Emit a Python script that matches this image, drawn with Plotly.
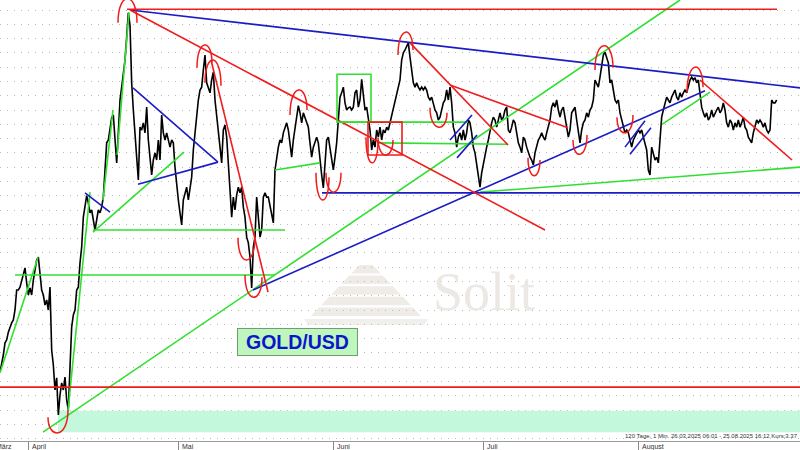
import plotly.graph_objects as go
import pandas as pd

# ---------------- data ----------------
start = pd.Timestamp("2025-03-26 06:00")
schritt_stunden = 8  # one price sample every 8 hours

kurs = [
    2993, 3003, 3017, 3034, 3038, 3049, 3056, 3062, 3066, 3080,
    3108, 3108, 3112, 3122, 3129, 3139, 3118, 3101, 3111, 3101,
    3122, 3136, 3150, 3154, 3129, 3108, 3101, 3087, 3094, 3080,
    3112, 3024, 3003, 2968, 2985, 2933, 2961, 2978, 2968, 2986,
    2954, 2940, 3000, 3056, 3073, 3080, 3108, 3112, 3146, 3168,
    3210, 3224, 3240, 3230, 3216, 3220, 3206, 3192, 3206, 3220,
    3216, 3224, 3238, 3272, 3314, 3318, 3336, 3349, 3353, 3318,
    3286, 3328, 3374, 3392, 3412, 3430, 3462, 3496, 3479, 3398,
    3360, 3318, 3294, 3262, 3336, 3332, 3342, 3328, 3364, 3318,
    3290, 3269, 3290, 3300, 3290, 3318, 3290, 3353, 3328, 3318,
    3328, 3318, 3308, 3318, 3314, 3280, 3252, 3234, 3216, 3199,
    3234, 3244, 3252, 3234, 3252, 3266, 3304, 3328, 3360, 3374,
    3388, 3392, 3416, 3437, 3398, 3392, 3384, 3402, 3413, 3374,
    3350, 3328, 3304, 3286, 3332, 3339, 3322, 3276, 3248, 3210,
    3238, 3220, 3241, 3252, 3244, 3252, 3224, 3210, 3182, 3174,
    3154, 3111, 3168, 3182, 3238, 3210, 3182, 3192, 3238, 3244,
    3238, 3238, 3224, 3210, 3202, 3276, 3294, 3308, 3318, 3314,
    3328, 3336, 3342, 3332, 3308, 3294, 3318, 3332, 3350, 3366,
    3356, 3342, 3356, 3350, 3342, 3336, 3314, 3294, 3308, 3314,
    3322, 3314, 3286, 3269, 3251, 3280, 3318, 3322, 3308, 3294,
    3276, 3294, 3314, 3346, 3378, 3384, 3392, 3370, 3360, 3363,
    3364, 3360, 3364, 3384, 3388, 3364, 3374, 3403, 3378, 3360,
    3364, 3346, 3332, 3304, 3318, 3308, 3332, 3322, 3336, 3318,
    3332, 3328, 3336, 3332, 3342, 3350, 3364, 3374, 3384, 3392,
    3402, 3430, 3440, 3444, 3448, 3454, 3434, 3416, 3398, 3392,
    3398, 3392, 3388, 3392, 3388, 3392, 3388, 3378, 3374, 3378,
    3370, 3360, 3356, 3346, 3350, 3360, 3370, 3374, 3388, 3374,
    3392, 3370, 3336, 3328, 3308, 3322, 3328, 3318, 3332, 3318,
    3328, 3346, 3342, 3328, 3308, 3300, 3286, 3266, 3252, 3272,
    3286, 3300, 3308, 3318, 3332, 3342, 3350, 3346, 3336, 3346,
    3356, 3346, 3350, 3360, 3364, 3332, 3328, 3336, 3346, 3342,
    3328, 3314, 3308, 3300, 3322, 3318, 3308, 3300, 3294, 3290,
    3283, 3300, 3308, 3318, 3322, 3328, 3322, 3318, 3328, 3336,
    3346, 3364, 3370, 3364, 3374, 3360, 3350, 3360, 3364, 3350,
    3332, 3322, 3332, 3356, 3360, 3364, 3346, 3328, 3314, 3332,
    3342, 3346, 3356, 3350, 3360, 3364, 3374, 3402, 3398, 3392,
    3406, 3426, 3437, 3441, 3434, 3426, 3398, 3402, 3388, 3374,
    3370, 3374, 3356, 3346, 3336, 3328, 3332, 3328, 3318, 3308,
    3318, 3322, 3328, 3332, 3328, 3332, 3322, 3314, 3304, 3276,
    3269, 3308, 3300, 3290, 3294, 3286, 3318, 3350, 3360, 3370,
    3378, 3374, 3370, 3378, 3384, 3388, 3378, 3374, 3384, 3378,
    3384, 3388, 3384, 3392, 3402, 3406, 3402, 3405, 3398, 3402,
    3384, 3364, 3356, 3350, 3356, 3346, 3350, 3360, 3350, 3356,
    3360, 3364, 3356, 3360, 3370, 3360, 3342, 3336, 3346, 3342,
    3332, 3342, 3336, 3346, 3336, 3342, 3350, 3336, 3332, 3322,
    3318, 3314, 3328, 3336, 3346, 3342, 3346, 3342, 3336, 3342,
    3332, 3328, 3332, 3374, 3370, 3370, 3374,
]
tag = [i * schritt_stunden / 24 for i in range(len(kurs))]  # days since start

monate = ["April", "Mai", "Juni", "Juli", "August"]
monatsbeginn = ["2025-04-01", "2025-05-01", "2025-06-01", "2025-07-01", "2025-08-01"]

# trend lines: (tag0, kurs0, tag1, kurs1)
rote_linien = [
    (25.4, 3501, 155.4, 3501),
    (26.0, 3500, 109.0, 3192),
    (42.2, 3430, 53.6, 3105),
    (82.0, 3454, 101.6, 3311),
    (90.0, 3395, 113.6, 3335),
    (140.0, 3402, 158.4, 3290),
    (0.0, 2972, 160.0, 2972),
]
blaue_linien = [
    (26.0, 3500, 160.0, 3391),
    (64.4, 3244, 160.0, 3244),
    (50.6, 3108, 141.0, 3387),
    (26.6, 3391, 43.6, 3287),
    (27.6, 3256, 43.6, 3287),
    (17.0, 3244, 22.0, 3217),
    (90.0, 3318, 94.4, 3353),
    (91.4, 3293, 95.4, 3325),
    (125.0, 3308, 129.0, 3345),
    (126.0, 3298, 130.2, 3335),
]
gruene_linien = [
    (8.6, 2909, 136.0, 3514),
    (0.0, 2992, 7.6, 3154),
    (3.0, 3129, 55.0, 3129),
    (18.6, 3192, 57.0, 3192),
    (13.6, 2939, 18.0, 3245),
    (20.6, 3234, 22.6, 3360),
    (23.4, 3297, 25.8, 3497),
    (18.6, 3189, 36.8, 3301),
    (55.0, 3276, 64.0, 3286),
    (67.6, 3343, 93.6, 3343),
    (75.4, 3314, 101.6, 3312),
    (96.0, 3245, 160.0, 3280),
    (132.4, 3340, 142.0, 3385),
]
# boxes: (tag0, kurs0, tag1, kurs1)
gruene_box = (67.4, 3343, 74.2, 3410)
rote_box = (73.6, 3297, 80.4, 3343)
# support zone
zone = (11.6, 2909, 160.0, 2939)

# hand drawn arcs: (tag_left, kurs_left, kurs_apex, tag_right, kurs_right)
boegen = [
    (23.6, 3482, 3516, 27.4, 3482),
    (39.4, 3419, 3451, 42.4, 3426),
    (41.0, 3398, 3430, 44.2, 3394),
    (47.6, 3181, 3150, 51.0, 3182),
    (49.0, 3129, 3098, 52.4, 3126),
    (58.0, 3353, 3388, 61.4, 3360),
    (63.2, 3272, 3234, 65.8, 3266),
    (65.2, 3272, 3245, 68.2, 3272),
    (73.2, 3322, 3286, 75.6, 3318),
    (75.6, 3321, 3297, 78.6, 3318),
    (79.6, 3437, 3469, 82.6, 3444),
    (86.0, 3363, 3336, 89.4, 3356),
    (105.6, 3293, 3268, 108.0, 3290),
    (114.6, 3318, 3298, 117.4, 3325),
    (119.0, 3416, 3450, 122.6, 3419),
    (123.4, 3350, 3328, 126.6, 3353),
    (137.4, 3384, 3420, 140.6, 3392),
    (9.6, 2930, 2908, 13.6, 2940),
]

info_text = "120 Tage, 1 Min. 26.03.2025 06:01 - 25.08.2025 16:12 Kurs:3.37"

# ---------------- figure ----------------
ROT, BLAU, GRUEN = "#f01c1c", "#1c1cc4", "#30e030"
X_RANGE = [0, 160]
Y_RANGE = [2896.6, 3514]

monat_tag = [(pd.Timestamp(d) - start) / pd.Timedelta(days=1) for d in monatsbeginn]

fig = go.Figure()
fig.add_trace(go.Scatter(x=tag, y=kurs, mode="lines",
                         line=dict(color="#000000", width=1.6),
                         hoverinfo="skip", showlegend=False))

shapes = []
# support zone (above grid, below price)
shapes.append(dict(type="rect", xref="x", yref="y", x0=zone[0], y0=zone[1], x1=zone[2], y1=zone[3],
                   fillcolor="#c4f8dc", line=dict(width=0), layer="between"))

# watermark pyramid (paper coords)
def px2paper(px, py):
    return px / 800.0, 1 - py / 441.0

cx, apex_y, base_y, base_hw = 366, 258, 318, 57
for k in range(5):
    top = 265 + k * 10.6
    bot = top + 8.5
    hw_t = base_hw * (top - apex_y) / (base_y - apex_y)
    hw_b = base_hw * (bot - apex_y) / (base_y - apex_y)
    pts = [px2paper(cx - hw_t, top), px2paper(cx + hw_t, top),
           px2paper(cx + hw_b, bot), px2paper(cx - hw_b, bot)]
    path = "M " + " L ".join(f"{a:.4f},{b:.4f}" for a, b in pts) + " Z"
    shapes.append(dict(type="path", xref="paper", yref="paper", path=path,
                       fillcolor="#efece8", line=dict(width=0), layer="between"))
pts = [px2paper(cx - 62, 319), px2paper(cx + 62, 319), px2paper(cx + 58, 325), px2paper(cx - 58, 325)]
shapes.append(dict(type="path", xref="paper", yref="paper",
                   path="M " + " L ".join(f"{a:.4f},{b:.4f}" for a, b in pts) + " Z",
                   fillcolor="#f1efec", line=dict(width=0), layer="between"))

def add_lines(lst, color):
    for (a, b, c, d) in lst:
        shapes.append(dict(type="line", xref="x", yref="y", x0=a, y0=b, x1=c, y1=d,
                           line=dict(color=color, width=1.6)))

add_lines(gruene_linien, GRUEN)
add_lines(blaue_linien, BLAU)
add_lines(rote_linien, ROT)

for box, col in ((gruene_box, GRUEN), (rote_box, ROT)):
    shapes.append(dict(type="rect", xref="x", yref="y", x0=box[0], y0=box[1], x1=box[2], y1=box[3],
                       line=dict(color=col, width=1.6), fillcolor="rgba(0,0,0,0)"))

for (t0, p0, pa, t1, p1) in boegen:
    yc = (pa - (p0 + p1) / 8.0) / 0.75
    path = f"M {t0},{p0} C {t0},{yc:.2f} {t1},{yc:.2f} {t1},{p1}"
    shapes.append(dict(type="path", xref="x", yref="y", path=path,
                       line=dict(color=ROT, width=1.5)))

annotations = []
# month labels
for name, t in zip(monate, monat_tag):
    annotations.append(dict(x=t, y=0, xref="x", yref="paper", text=name, showarrow=False,
                            xanchor="left", yanchor="top", xshift=1, yshift=0,
                            font=dict(family="Liberation Sans, Arial", size=7, color="#333333")))
annotations.append(dict(x=0, y=0, xref="x", yref="paper", text="März", showarrow=False,
                        xanchor="right", yanchor="top", xshift=14,
                        font=dict(family="Liberation Sans, Arial", size=7, color="#333333")))
annotations.append(dict(x=1, y=0, xref="paper", yref="paper", text=info_text, showarrow=False,
                        xanchor="right", yanchor="bottom", yshift=0,
                        font=dict(family="Liberation Sans, Arial", size=6, color="#333333")))
# watermark text
sx, sy = px2paper(484, 292)
annotations.append(dict(x=sx, y=sy, xref="paper", yref="paper", text="Solit", showarrow=False,
                        xanchor="center", yanchor="middle",
                        font=dict(family="Liberation Serif, Times New Roman", size=54, color="#ece9e4")))
# GOLD/USD label
gx, gy = px2paper(297.5, 342)
annotations.append(dict(x=gx, y=gy, xref="paper", yref="paper", text="<b>GOLD/USD</b>",
                        showarrow=False, xanchor="center", yanchor="middle",
                        width=117, height=24, borderpad=1, borderwidth=1,
                        bordercolor="#6f9f6f", bgcolor="#bef6be",
                        font=dict(family="Liberation Sans, Arial", size=19.5, color="#0b16c8")))

fig.update_layout(
    width=800, height=450,
    margin=dict(l=0, r=0, t=0, b=9),
    paper_bgcolor="white", plot_bgcolor="white",
    showlegend=False,
    shapes=shapes, annotations=annotations,
    xaxis=dict(range=X_RANGE, showgrid=False, zeroline=False,
               tickvals=monat_tag, ticks="outside", ticklen=9, tickcolor="#888888",
               showticklabels=False, showline=True, linecolor="#9a9a9a", linewidth=1,
               fixedrange=True),
    yaxis=dict(range=Y_RANGE, showgrid=True, gridcolor="#b9b9b9", griddash="1px,6px",
               gridwidth=1, tick0=0, dtick=20, showticklabels=False, zeroline=False,
               ticks="", showline=False, fixedrange=True),
)

fig.write_html("out.html", config={"displayModeBar": False},
               post_script="document.body.style.margin='0';document.body.style.overflow='hidden';")
